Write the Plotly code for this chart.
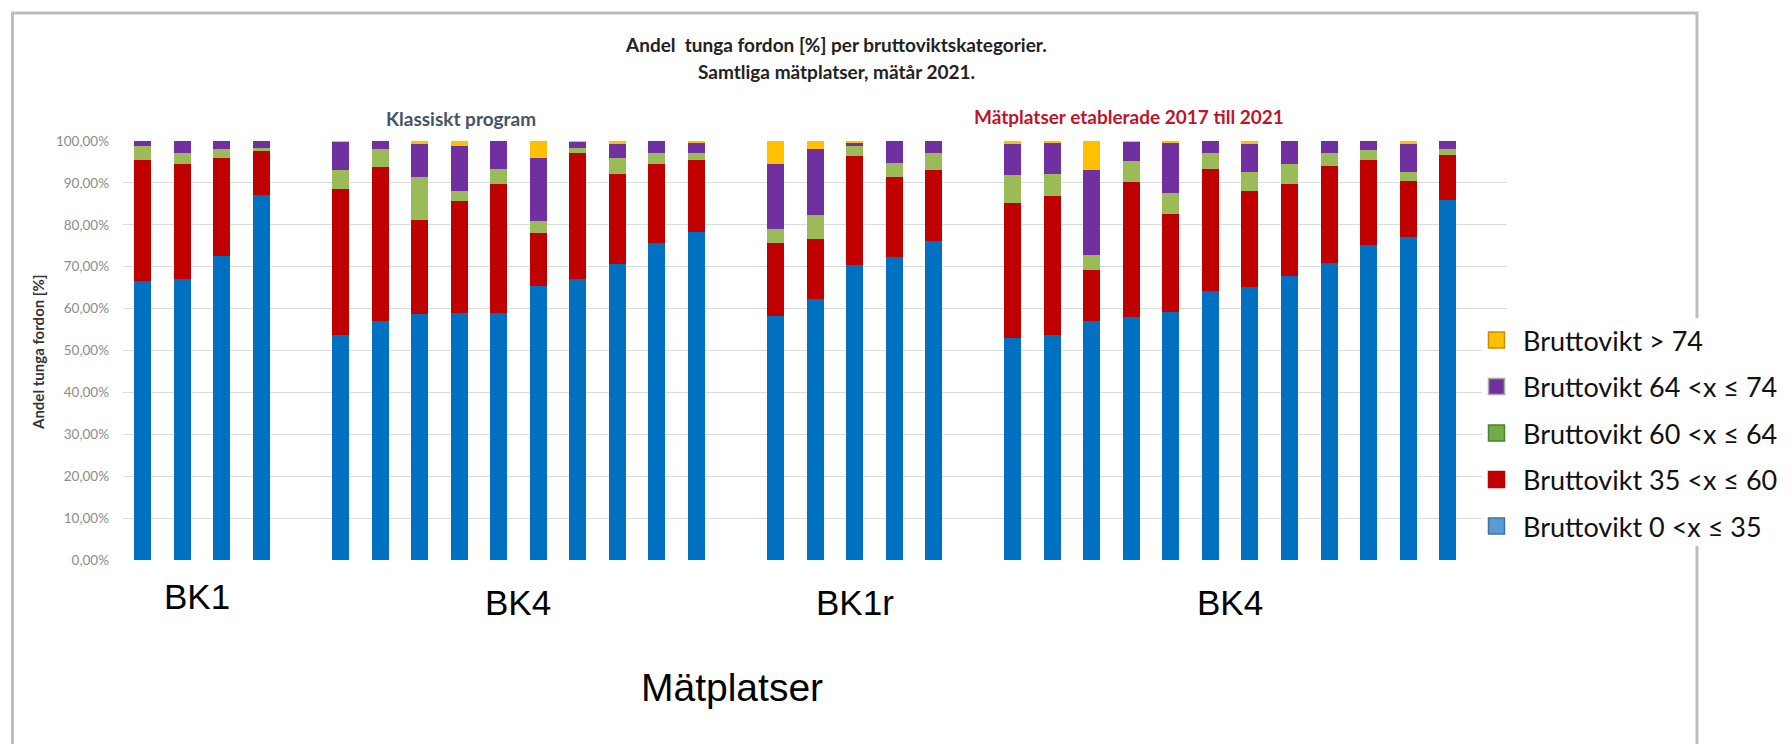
import plotly.graph_objects as go

# Measuring sites, grouped by road class; one empty slot separates groups
group_names = ["BK1", "BK4", "BK1r", "BK4"]
group_sizes = [4, 10, 5, 12]

# Share of heavy vehicles [%] per gross-weight class, one value per site
blue = [66.5, 67.0, 72.5, 87.2, 53.8, 57.0, 58.7, 58.9, 58.9, 65.5, 67.0, 70.6, 75.6, 78.2,
        58.3, 62.3, 70.4, 72.2, 76.2,
        53.0, 53.6, 57.1, 57.9, 59.1, 64.3, 65.2, 67.9, 71.0, 75.2, 77.1, 85.9]
red = [29.0, 27.4, 23.4, 10.4, 34.7, 36.7, 22.5, 26.7, 30.8, 12.5, 30.1, 21.5, 18.8, 17.2,
       17.3, 14.4, 26.0, 19.3, 16.9,
       32.3, 33.3, 12.1, 32.3, 23.4, 29.1, 22.9, 21.8, 23.0, 20.2, 13.4, 10.7]
green = [3.2, 2.7, 2.1, 0.8, 4.6, 4.3, 10.3, 2.5, 3.7, 3.0, 1.3, 3.8, 2.7, 1.7,
         3.5, 5.6, 2.5, 3.3, 4.0,
         6.5, 5.2, 3.7, 5.0, 5.2, 3.8, 4.4, 4.7, 3.1, 2.4, 2.2, 1.6]
purple = [1.3, 2.9, 2.0, 1.6, 6.7, 2.0, 7.9, 10.6, 6.6, 15.0, 1.4, 3.5, 2.9, 2.5,
          15.3, 15.7, 0.7, 5.2, 2.9,
          7.6, 7.5, 20.1, 4.6, 11.9, 2.8, 6.9, 5.6, 2.9, 2.2, 6.7, 1.8]
yellow = [0, 0, 0, 0, 0.2, 0, 0.6, 1.3, 0, 4.0, 0.2, 0.6, 0, 0.4,
          5.6, 2.0, 0.4, 0, 0,
          0.6, 0.4, 7.0, 0.2, 0.4, 0, 0.6, 0, 0, 0, 0.6, 0]

series_names = ["Bruttovikt 0 <x ≤ 35", "Bruttovikt 35 <x ≤ 60", "Bruttovikt 60 <x ≤ 64",
                "Bruttovikt 64 <x ≤ 74", "Bruttovikt > 74"]
bar_colors = ["#0070C0", "#C00000", "#9BBB59", "#7030A0", "#FFC000"]
legend_fill = ["#5B9BD5", "#C00000", "#70AD47", "#7030A0", "#FFC000"]
legend_edge = ["#41719C", "#C00000", "#507E32", "#A9A9A9", "#BF9000"]

y_tick_vals = [0, 10, 20, 30, 40, 50, 60, 70, 80, 90, 100]
y_tick_text = ["0,00%", "10,00%", "20,00%", "30,00%", "40,00%", "50,00%",
               "60,00%", "70,00%", "80,00%", "90,00%", "100,00%"]

# x slot of every bar: consecutive inside a group, one blank slot between groups
x_pos = []
group_centers = []
slot = 0
for size in group_sizes:
    group_centers.append(slot + (size - 1) / 2)
    x_pos.extend(range(slot, slot + size))
    slot += size + 1
n_slots = slot  # includes trailing blank slot

W, H = 1789, 744
L, R, T, B = 123, 1507, 141, 560


def px(xp):
    return (xp - L) / (R - L)


def py(yp):
    return (B - yp) / (B - T)


def label(x, y, text, size, color, family="Lato", xref="paper", **kw):
    return dict(x=x, y=y, xref=xref, yref="paper", text=text, showarrow=False,
                xanchor=kw.pop("xanchor", "center"), yanchor="middle",
                font=dict(family=family, size=size, color=color), **kw)


fig = go.Figure()
for vals, name, col in zip([blue, red, green, purple, yellow], series_names, bar_colors):
    fig.add_trace(go.Bar(x=x_pos, y=vals, name=name, marker=dict(color=col, line=dict(width=0)),
                         width=0.43, showlegend=False))

annotations = []
shapes = []

# outer frame of the chart area
shapes.append(dict(type="path", xref="paper", yref="paper",
                   path=f"M {px(12.5)},{py(760)} L {px(12.5)},{py(13)} L {px(1697)},{py(13)} L {px(1697)},{py(760)}",
                   line=dict(color="#BDBDBD", width=3), layer="above"))

# legend panel
shapes.append(dict(type="rect", xref="paper", yref="paper", x0=px(1482), x1=px(1800),
                   y0=py(318), y1=py(546), fillcolor="white", line=dict(width=0), layer="above"))
legend_y = [526, 479.5, 433, 386.5, 340]
for i, name in enumerate(series_names):
    yc = legend_y[i]
    shapes.append(dict(type="rect", xref="paper", yref="paper",
                       x0=px(1488.5), x1=px(1504.5), y0=py(yc + 8), y1=py(yc - 8),
                       fillcolor=legend_fill[i], line=dict(color=legend_edge[i], width=1.5),
                       layer="above"))
    annotations.append(label(px(1521), py(yc), name, 27, "#111111", xanchor="left"))

# titles
annotations.append(label(px(836), py(45), "<b>Andel  tunga fordon [%] per bruttoviktskategorier.</b>",
                         19, "#222222"))
annotations.append(label(px(836), py(71), "<b>Samtliga mätplatser, mätår 2021.</b>", 19, "#222222"))
annotations.append(label(px(461), py(118), "<b>Klassiskt program</b>", 19, "#44546A"))
annotations.append(label(px(1129), py(117), "<b>Mätplatser etablerade 2017 till 2021</b>", 19, "#C0142A"))

# y-axis title
annotations.append(label(px(38), py(352), "<b>Andel tunga fordon [%]</b>", 15, "#333333",
                         textangle=-90))

# group labels under the bars
label_y = [596, 602, 602, 602]
label_shift = [-0.13, 0, 0, 0]
for name, c, ly, sh in zip(group_names, group_centers, label_y, label_shift):
    annotations.append(label(c + sh, py(ly), name, 35, "#000000", family="Liberation Sans", xref="x"))

annotations.append(label(px(732), py(687), "Mätplatser", 39, "#000000", family="Liberation Sans"))

fig.update_layout(
    width=W, height=H,
    barmode="stack",
    margin=dict(l=L, r=W - R, t=T, b=H - B, pad=0),
    paper_bgcolor="white", plot_bgcolor="white",
    xaxis=dict(range=[-0.5, n_slots - 0.5], showticklabels=False, showgrid=False,
               zeroline=False, showline=False, ticks=""),
    yaxis=dict(range=[0, 100], tickvals=y_tick_vals, ticktext=y_tick_text,
               showgrid=True, gridcolor="#DCDCDC", gridwidth=1, zeroline=False,
               showline=False, ticks="", ticklabelstandoff=13,
               tickfont=dict(family="Lato", size=13.5, color="#8C8C8C")),
    annotations=annotations,
    shapes=shapes,
    showlegend=False,
    bargap=0,
)

fig.write_html("out.html")
